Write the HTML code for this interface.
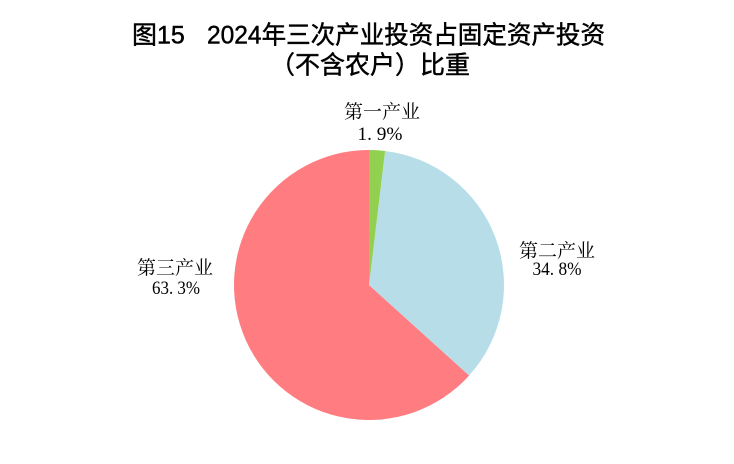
<!DOCTYPE html>
<html>
<head>
<meta charset="utf-8">
<style>
  html, body { margin: 0; padding: 0; background: #ffffff; }
  body { width: 734px; height: 464px; overflow: hidden; }
  svg { display: block; }
  .t { font-family: "Liberation Sans", "Noto Sans CJK SC", sans-serif; font-size: 25px; fill: #000; stroke: #000; stroke-width: 0.45px; }
  .l { font-family: "Liberation Serif", "Noto Serif CJK SC", serif; font-size: 19px; fill: #000; }
  .n { font-family: "Liberation Serif", "Noto Serif CJK SC", serif; font-size: 19px; fill: #000; }
</style>
</head>
<body>
<svg width="734" height="464" viewBox="0 0 734 464" xmlns="http://www.w3.org/2000/svg">
  <rect x="0" y="0" width="734" height="464" fill="#ffffff"/>

  <!-- Title -->
  <text class="t" x="132" y="43.5">图15</text>
  <text class="t" x="207" y="43.5" textLength="398" lengthAdjust="spacingAndGlyphs">2024年三次产业投资占固定资产投资</text>
  <text class="t" x="270" y="73.5" textLength="200" lengthAdjust="spacingAndGlyphs">（不含农户）比重</text>

  <!-- Pie: center (369,285), r=135 -->
  <path d="M369,285 L469.13,375.55 A135,135 0 1,1 369,150 Z" fill="#FF7C80"/>
  <path d="M369,285 L385.08,150.96 A135,135 0 0,1 469.13,375.55 Z" fill="#B7DEE8"/>
  <path d="M369,285 L369,150 A135,135 0 0,1 385.08,150.96 Z" fill="#92D050"/>

  <!-- Labels -->
  <text class="l" x="382" y="118" text-anchor="middle">第一产业</text>
  <text class="n" x="380" y="140" text-anchor="middle" textLength="45" lengthAdjust="spacingAndGlyphs">1. 9%</text>

  <text class="l" x="557" y="257" text-anchor="middle">第二产业</text>
  <text class="n" x="557" y="275" text-anchor="middle" textLength="49" lengthAdjust="spacingAndGlyphs">34. 8%</text>

  <text class="l" x="175" y="274" text-anchor="middle">第三产业</text>
  <text class="n" x="176" y="294" text-anchor="middle" textLength="48" lengthAdjust="spacingAndGlyphs">63. 3%</text>
</svg>
</body>
</html>
